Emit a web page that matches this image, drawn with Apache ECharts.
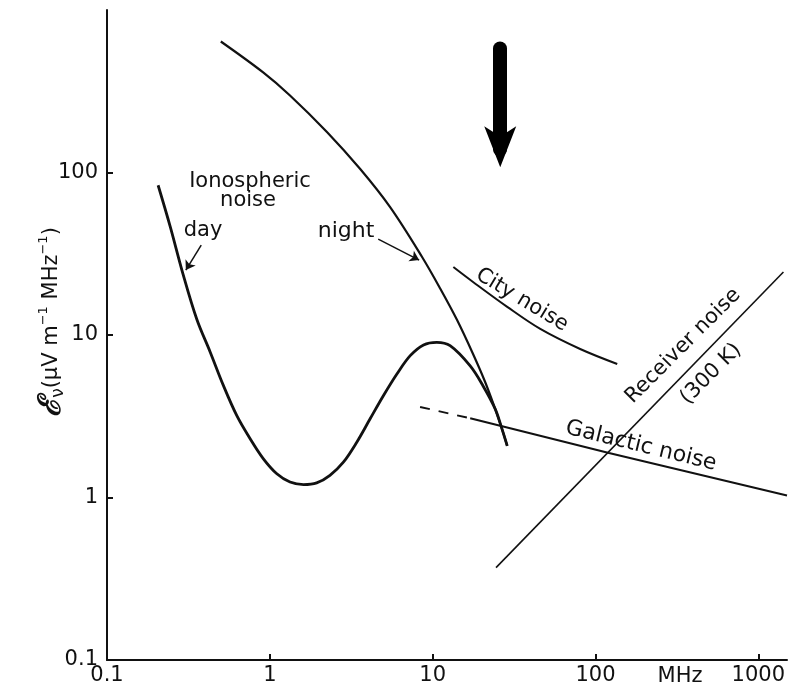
<!DOCTYPE html>
<html>
<head>
<meta charset="utf-8">
<script src="https://cdn.jsdelivr.net/npm/echarts@6/dist/echarts.min.js"></script>
<style>
html,body{margin:0;padding:0;background:#fff;}
#c{width:797px;height:686px;}
</style>
</head>
<body>
<div id="c"></div>
<script>
// ---- data (frequency in MHz, field in µV m^-1 MHz^-1) ----
const nightFreq = [0.50, 0.91, 1.33, 2.25, 3.59, 5.48, 8.61, 11.1, 14.1, 17.7, 21.0, 24.2, 26.4, 28.7];
const nightE    = [640, 413, 298, 177, 105, 61.2, 30.2, 19.4, 12.4, 7.64, 5.14, 3.51, 2.72, 2.08];

const dayFreq = [0.206, 0.244, 0.293, 0.356, 0.430, 0.519, 0.627, 0.757, 0.913, 1.104, 1.33, 1.61, 1.94, 2.34, 2.83, 3.42, 4.13, 4.99, 6.03, 7.28, 8.79, 10.6, 12.8, 17.0, 20.4, 24.2, 26.4, 28.7];
const dayE    = [83.5, 46.8, 23.7, 12.5, 7.87, 4.88, 3.19, 2.30, 1.73, 1.40, 1.245, 1.20, 1.23, 1.37, 1.65, 2.19, 3.05, 4.24, 5.75, 7.46, 8.69, 9.02, 8.59, 6.45, 4.86, 3.51, 2.72, 2.08];

const cityFreq = [13.4, 17.7, 28.7, 45.8, 80.5, 136];
const cityE    = [26.2, 21.2, 14.9, 10.9, 8.20, 6.63];

const galDashFreq = [8.37, 17.0];
const galDashE    = [3.61, 3.07];
const galFreq = [17.0, 121, 1500];
const galE    = [3.07, 1.88, 1.03];

const rcvFreq = [24.5, 1426];
const rcvE    = [0.370, 24.4];

const xTickLabels = {"0.1":"0.1","1":"1","10":"10","100":"100","1000":"1000"};
const yTickLabels = {"0.1":"0.1","1":"1","10":"10","100":"100"};

// annotation pointers (data coordinates)
const dayArrow   = [[0.379, 35.7], [0.305, 25.1]];
const nightArrow = [[4.63, 38.9], [8.26, 28.9]];
const bigArrowShaft = [[26.0, 580], [26.0, 139]];
const bigArrowTip   = [26.0, 107.7];

function pairs(xs, ys){ return xs.map((x,i)=>[x, ys[i]]); }
function keyOf(v){ const l = Math.round(Math.log10(v)*1000)/1000; if (Math.abs(l - Math.round(l))>1e-3) return null; const r=Math.round(l); return r<0 ? (Math.pow(10,r)).toFixed(-r) : String(Math.pow(10,r)); }

const ink = '#111';
const chart = echarts.init(document.getElementById('c'), null, {renderer:'canvas'});

const lineBase = (name, data, w, extra) => Object.assign({
  name, type:'line', data, showSymbol:false, symbol:'none', smooth:0.35,
  lineStyle:{color:ink, width:w}, silent:true, animation:false, z:3
}, extra||{});

const labelFont = '"DejaVu Sans"';

chart.setOption({
  animation:false,
  backgroundColor:'#fff',
  grid:{left:107, right:10, top:10, bottom:25, containLabel:false},
  xAxis:{
    type:'log', logBase:10, min:0.1, max:1500,
    axisLine:{show:true, lineStyle:{color:ink, width:2}},
    axisTick:{show:true, inside:true, length:6, lineStyle:{color:ink, width:2}},
    splitLine:{show:false},
    axisLabel:{
      color:ink, fontFamily:'DejaVu Sans', fontSize:21, margin:5, showMaxLabel:false,
      formatter:v=>{ const k=keyOf(v); return k && xTickLabels[k] ? xTickLabels[k] : ''; }
    }
  },
  yAxis:{
    type:'log', logBase:10, min:0.1, max:1000,
    axisLine:{show:true, lineStyle:{color:ink, width:2}},
    axisTick:{show:true, inside:true, length:6, lineStyle:{color:ink, width:2}},
    splitLine:{show:false},
    axisLabel:{
      color:ink, fontFamily:'DejaVu Sans', fontSize:21, margin:9, showMaxLabel:false,
      formatter:v=>{ const k=keyOf(v); return k && yTickLabels[k] ? yTickLabels[k] : ''; }
    }
  },
  series:[
    lineBase('night', pairs(nightFreq, nightE), 2.2),
    lineBase('day', pairs(dayFreq, dayE), 2.8),
    lineBase('city', pairs(cityFreq, cityE), 2),
    lineBase('galacticDashed', pairs(galDashFreq, galDashE), 2, {smooth:false, lineStyle:{color:ink, width:2, type:[10,9]}}),
    lineBase('galactic', pairs(galFreq, galE), 2, {smooth:false}),
    lineBase('receiver', pairs(rcvFreq, rcvE), 1.6, {smooth:false}),
    {
      type:'line', data:[], silent:true, animation:false,
      markLine:{
        silent:true, animation:false, label:{show:false},
        data:[
          [{coord:dayArrow[0], symbol:'none'}, {coord:dayArrow[1], symbol:'arrow', symbolSize:9, lineStyle:{color:ink, width:1.5, type:'solid'}}],
          [{coord:nightArrow[0], symbol:'none'}, {coord:nightArrow[1], symbol:'arrow', symbolSize:9, lineStyle:{color:ink, width:1.5, type:'solid'}}],
          [{coord:bigArrowShaft[0], symbol:'none'}, {coord:bigArrowShaft[1], symbol:'none', lineStyle:{color:'#000', width:14, type:'solid', cap:'round'}}]
        ],
        lineStyle:{color:ink, type:'solid'}, itemStyle:{color:ink}
      },
      markPoint:{
        silent:true, animation:false, label:{show:false},
        data:[{coord:bigArrowTip, symbol:'arrow', symbolSize:[24,41], symbolRotate:180, itemStyle:{color:'#000'}}]
      }
    }
  ],
  graphic:[
    {type:'text', x:52, y:322, rotation:Math.PI/2, silent:true, style:{
      text:'{e|ℰ}{v|ν}{t|(μV m}{s|−1}{t| MHz}{s|−1}{t|)}',
      align:'center', verticalAlign:'middle', fill:ink,
      rich:{
        e:{fontFamily:'DejaVu Serif', fontStyle:'italic', fontWeight:'bold', fontSize:31, lineHeight:30, fill:ink},
        v:{fontFamily:'DejaVu Sans', fontSize:17, lineHeight:30, verticalAlign:'bottom', fill:ink},
        t:{fontFamily:'DejaVu Sans', fontSize:21, lineHeight:30, fill:ink},
        s:{fontFamily:'DejaVu Sans', fontSize:13, lineHeight:30, verticalAlign:'top', fill:ink}
      }
    }},
    {type:'text', x:680, y:677, silent:true, style:{text:'MHz', font:'21px '+labelFont, fill:ink, align:'center', verticalAlign:'middle'}},
    {type:'text', x:250, y:182, silent:true, style:{text:'Ionospheric', font:'21px '+labelFont, fill:ink, align:'center', verticalAlign:'middle'}},
    {type:'text', x:248, y:201, silent:true, style:{text:'noise', font:'21px '+labelFont, fill:ink, align:'center', verticalAlign:'middle'}},
    {type:'text', x:203, y:231, silent:true, style:{text:'day', font:'21px '+labelFont, fill:ink, align:'center', verticalAlign:'middle'}},
    {type:'text', x:346, y:231, silent:true, style:{text:'night', font:'22px '+labelFont, fill:ink, align:'center', verticalAlign:'middle'}},
    {type:'text', x:522, y:300, rotation:-0.54, silent:true, style:{text:'City noise', font:'21px '+labelFont, fill:ink, align:'center', verticalAlign:'middle'}},
    {type:'text', x:683, y:346, rotation:Math.PI/4, silent:true, style:{text:'Receiver noise', font:'21px '+labelFont, fill:ink, align:'center', verticalAlign:'middle'}},
    {type:'text', x:711, y:374, rotation:Math.PI/4, silent:true, style:{text:'(300 K)', font:'21px '+labelFont, fill:ink, align:'center', verticalAlign:'middle'}},
    {type:'text', x:641, y:446, rotation:-0.24, silent:true, style:{text:'Galactic noise', font:'22px '+labelFont, fill:ink, align:'center', verticalAlign:'middle'}}
  ]
});
</script>
</body>
</html>
